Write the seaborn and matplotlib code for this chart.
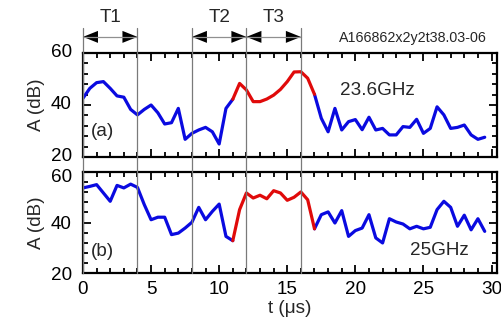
import numpy as np
import pandas as pd
import matplotlib
matplotlib.use("Agg")
import matplotlib.pyplot as plt
import seaborn as sns
from matplotlib.ticker import MultipleLocator, FixedLocator
from matplotlib.lines import Line2D
from matplotlib.transforms import blended_transform_factory, ScaledTranslation

# ---------------- data ----------------
t = np.arange(60) * 0.5  # time samples (µs)
A_a = [42.6, 46.4, 48.6, 49.0, 46.4, 43.5, 43.0, 38.3, 36.2, 38.3,
       40.0, 37.0, 32.7, 33.2, 38.7, 26.8, 29.1, 30.4, 31.4, 29.7,
       25.0, 38.7, 42.2, 48.3, 45.8, 41.3, 41.3, 42.3, 43.8, 46.0,
       49.0, 52.7, 52.8, 50.3, 44.1, 34.9, 29.7, 38.7, 30.4, 33.6,
       34.4, 30.5, 35.3, 30.4, 31.0, 28.5, 28.5, 31.7, 31.4, 34.5,
       29.1, 31.0, 39.3, 36.2, 31.0, 31.4, 32.3, 28.5, 26.8, 27.6]
A_b = [53.7, 54.3, 55.0, 51.7, 48.4, 54.7, 53.7, 55.2, 53.9, 47.1,
       41.1, 42.1, 42.1, 35.2, 35.8, 37.8, 40.1, 46.0, 41.1, 44.4,
       47.3, 34.5, 32.8, 45.1, 51.7, 49.7, 50.8, 49.4, 52.6, 51.7,
       48.8, 50.0, 52.1, 49.0, 37.5, 43.1, 44.2, 39.8, 44.7, 34.5,
       36.8, 37.8, 43.1, 33.9, 31.9, 41.5, 40.2, 39.4, 37.5, 38.5,
       37.5, 38.1, 45.1, 48.4, 46.0, 38.5, 42.9, 37.1, 41.5, 36.5]
red_start, red_end = 11.0, 17.0
guide_t = [0, 4, 8, 12, 16]
period_names = ["T1", "T2", "T3"]
period_spans = [(0, 4), (8, 12), (12, 16)]
panel_tags = ["(a)", "(b)"]
freq_labels = ["23.6GHz", "25GHz"]
shot_label = "A166862x2y2t38.03-06"

BLUE = "#0a0ae0"
RED = "#e00a0a"


def segment_frame(values):
    rows = []
    for ti, v in zip(t, values):
        if ti <= red_start:
            rows.append((ti, v, "blue", 0))
        if red_start <= ti <= red_end:
            rows.append((ti, v, "red", 1))
        if ti >= red_end:
            rows.append((ti, v, "blue", 2))
    return pd.DataFrame(rows, columns=["t", "A", "color", "seg"])


sns.set_style("ticks")
plt.rcParams["font.family"] = ["Liberation Sans", "DejaVu Sans"]
plt.rcParams["axes.linewidth"] = 1.5

FS = 13.6

fig = plt.figure(figsize=(5.02, 3.24), dpi=100)
ax1 = fig.add_axes([0.1653, 0.5154, 0.8247, 0.321])
ax2 = fig.add_axes([0.1653, 0.1574, 0.8247, 0.3117])

for ax, vals in ((ax1, A_a), (ax2, A_b)):
    df = segment_frame(vals)
    sns.lineplot(data=df, x="t", y="A", hue="color", units="seg",
                 estimator=None, sort=False, palette={"blue": BLUE, "red": RED},
                 linewidth=2.3, legend=False, ax=ax, zorder=3)
    ax.set_xlim(0, 30.4)
    ax.set_ylim(20, 60)
    ax.xaxis.set_major_locator(FixedLocator([0, 5, 10, 15, 20, 25, 30]))
    ax.xaxis.set_minor_locator(MultipleLocator(1))
    ax.yaxis.set_major_locator(FixedLocator([20, 40, 60]))
    ax.yaxis.set_minor_locator(MultipleLocator(4))
    ax.tick_params(which="both", direction="in", top=True, right=True,
                   labelsize=FS, width=1.3, colors="black")
    ax.tick_params(which="major", length=6)
    ax.tick_params(which="minor", length=3.5)
    ax.tick_params(axis="y", pad=8)
    ax.tick_params(axis="x", pad=6)
    ax.set_ylabel("A (dB)", fontsize=FS, labelpad=4)
    for s in ax.spines.values():
        s.set_linewidth(1.6)
        s.set_color("black")

ax1.set_xlabel("")
ax1.tick_params(axis="x", labelbottom=False)
ax2.set_xlabel("t (μs)", fontsize=FS, labelpad=1)

# panel annotations
ax1.text(0.6, 30, panel_tags[0], fontsize=FS, ha="left", va="center")
ax1.text(18.9, 45.6, freq_labels[0], fontsize=FS, ha="left", va="center")
ax2.text(0.6, 28.7, panel_tags[1], fontsize=FS, ha="left", va="center")
ax2.text(24.0, 29.0, freq_labels[1], fontsize=FS, ha="left", va="center")

# vertical guide lines through both panels
tr = blended_transform_factory(ax1.transData, fig.transFigure)
for gx in guide_t:
    fig.add_artist(Line2D([gx, gx], [1 - 28 / 324, 1 - 273 / 324],
                          transform=tr, color="#7a7a7a", lw=0.9, zorder=0.5))

# period arrows
arrow_y = 66.2
for name, (x0, x1) in zip(period_names, period_spans):
    ax1.plot([x0, x1], [arrow_y, arrow_y], color="#909090", lw=0.9,
             clip_on=False, zorder=4)
    mid = (x0 + x1) / 2
    for end in (x0, x1):
        ax1.annotate("", xy=(end, arrow_y), xytext=(mid, arrow_y),
                     annotation_clip=False,
                     arrowprops=dict(arrowstyle="-|>,head_length=0.45,head_width=0.18",
                                     mutation_scale=24, lw=0, color="black",
                                     shrinkA=0, shrinkB=0))
    ax1.text(mid, 73.8, name, fontsize=FS, ha="center", va="center",
             clip_on=False)

ax1.text(24.2, 65.8, shot_label, fontsize=10.3, ha="center", va="center",
         clip_on=False)

# keep the adjacent "20" (top panel) and "60" (bottom panel) labels apart
fig.canvas.draw()
up = ScaledTranslation(0, 3 / 100, fig.dpi_scale_trans)
down = ScaledTranslation(0, -3 / 100, fig.dpi_scale_trans)
for lab in ax1.yaxis.get_majorticklabels():
    lab.set_transform(lab.get_transform() + up)
ax2.yaxis.get_majorticklabels()[-1].set_transform(
    ax2.yaxis.get_majorticklabels()[-1].get_transform() + down)

fig.savefig("out.png", dpi=100)
